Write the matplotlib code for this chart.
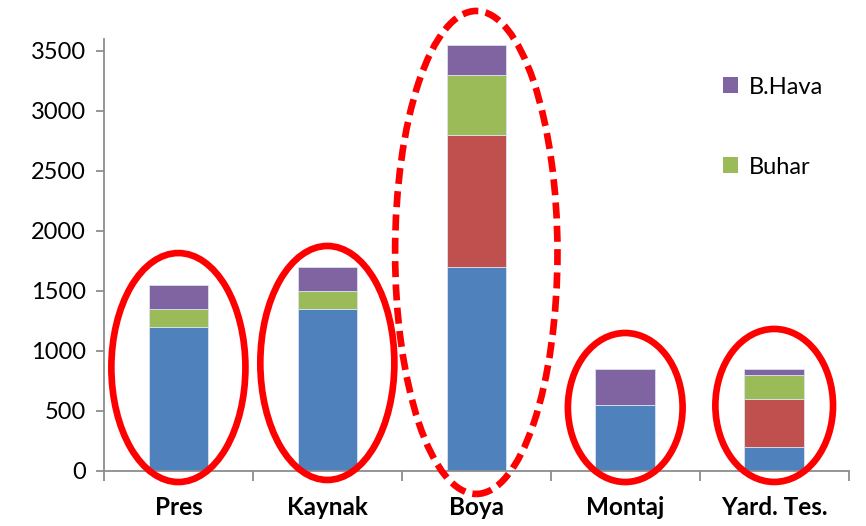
import matplotlib
matplotlib.use("Agg")
import matplotlib.pyplot as plt
from matplotlib.patches import Ellipse, Patch
import numpy as np

plt.rcParams["font.family"] = ["Lato", "DejaVu Sans"]

# bölümler ve enerji tüketimleri
bolumler = ["Pres", "Kaynak", "Boya", "Montaj", "Yard. Tes."]
elektrik = [1200, 1350, 1700, 550, 200]
dogalgaz = [0, 0, 1100, 0, 400]
buhar = [150, 150, 500, 0, 200]
b_hava = [200, 200, 250, 300, 50]

renkler = ["#4F81BD", "#C0504D", "#9BBB59", "#8064A2"]

# bölüm çevresindeki işaret elipsleri: (merkez y, genişlik, yükseklik, kesikli mi)
elips_merkez_y = [862, 900, 1821, 529, 546]
elips_genislik = [0.90, 0.90, 1.09, 0.77, 0.79]
elips_yukseklik = [1908, 1950, 4025, 1242, 1275]
elips_kesikli = [False, False, True, False, False]

fig = plt.figure(figsize=(8.66, 5.26), dpi=100)
ax = fig.add_axes([0.120, 0.1046, 0.860, 0.8213])

x = np.arange(len(bolumler))
alt = np.zeros(len(bolumler))
for seri, renk in zip([elektrik, dogalgaz, buhar, b_hava], renkler):
    ax.bar(x, seri, width=0.40, bottom=alt, color=renk,
           edgecolor="#D9E2F0", linewidth=0.6, zorder=2)
    alt += np.array(seri)

for i in range(len(bolumler)):
    e = Ellipse((x[i], elips_merkez_y[i]), elips_genislik[i], elips_yukseklik[i],
                fill=False, edgecolor="#FF0000", linewidth=4.8, zorder=3,
                clip_on=False,
                linestyle=(0, (2.4, 1.1)) if elips_kesikli[i] else "-")
    ax.add_patch(e)

ax.set_xlim(-0.5, len(bolumler) - 0.5)
ax.set_ylim(0, 3600)
ax.set_yticks(np.arange(0, 3501, 500))
ax.set_xticks(x)
ax.set_xticklabels(bolumler, fontsize=17.5, fontweight="bold")
ax.set_xticks(np.arange(-0.5, len(bolumler)), minor=True)

for s in ["top", "right"]:
    ax.spines[s].set_visible(False)
for s in ["left", "bottom"]:
    ax.spines[s].set_color("#8C8C8C")
    ax.spines[s].set_linewidth(1.3)

ax.tick_params(axis="y", labelsize=17, length=6, width=1.3, color="#8C8C8C", pad=7)
ax.tick_params(axis="x", which="major", length=0, pad=18)
ax.tick_params(axis="x", which="minor", length=7, width=1.3, color="#8C8C8C")

tutamaclar = [Patch(facecolor=renkler[3], label="B.Hava"),
              Patch(facecolor=renkler[2], label="Buhar")]
ax.legend(handles=tutamaclar, loc="upper left", bbox_to_anchor=(0.821, 0.877),
          bbox_transform=fig.transFigure, frameon=False, fontsize=17,
          handlelength=0.65, handleheight=0.65, handletextpad=0.45,
          labelspacing=2.5, borderpad=0)

fig.savefig("out.png", dpi=100)
